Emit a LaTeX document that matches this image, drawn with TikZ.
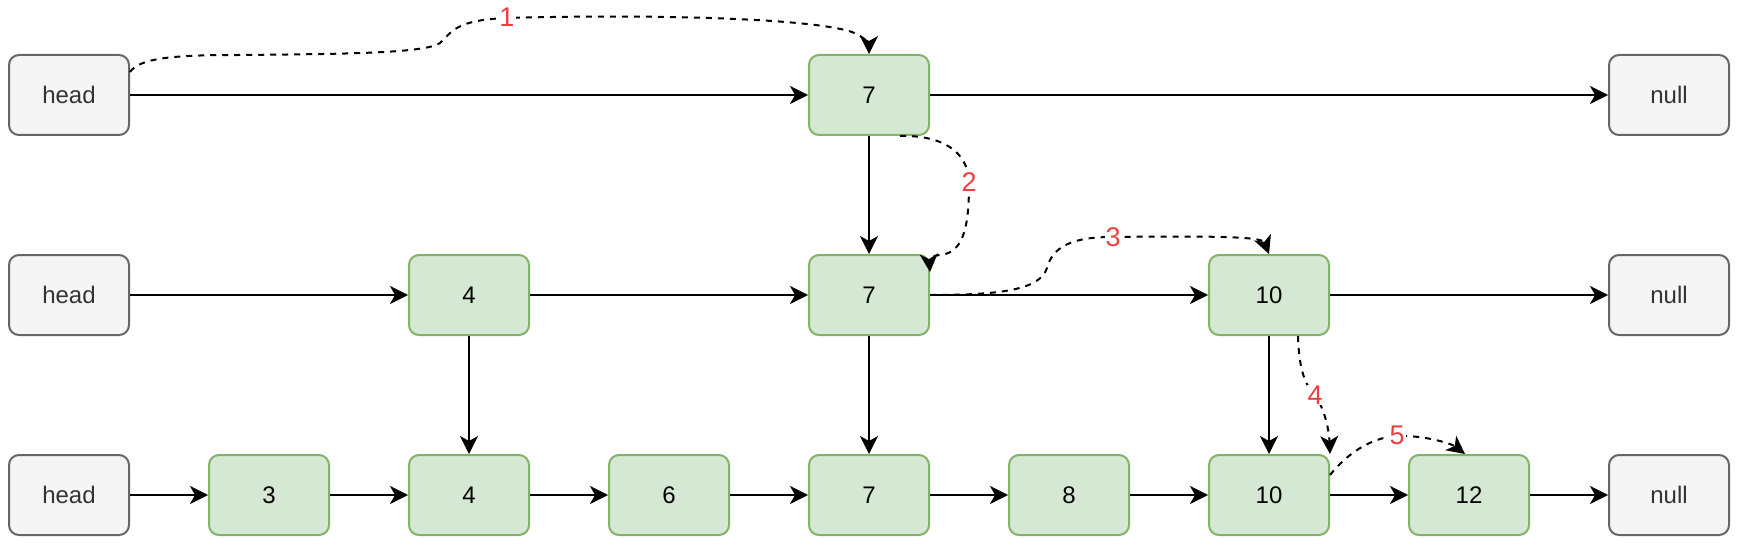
\documentclass[tikz,border=0pt]{standalone}
\usepackage{fontspec}
\setmainfont{Liberation Sans}
\usetikzlibrary{arrows.meta}
\definecolor{grayfill}{HTML}{F5F5F5}
\definecolor{graydraw}{HTML}{666666}
\definecolor{graytext}{HTML}{333333}
\definecolor{greenfill}{HTML}{D5E8D4}
\definecolor{greendraw}{HTML}{82B366}
\definecolor{labelred}{HTML}{EE3F3F}
\begin{document}
\begin{tikzpicture}[x=1pt,y=-1pt,
  box/.style={rounded corners=10pt, minimum width=120pt, minimum height=80pt, line width=2pt, inner sep=0pt, font=\fontsize{24}{28}\selectfont},
  endbox/.style={box, fill=grayfill, draw=graydraw, text=graytext},
  valbox/.style={box, fill=greenfill, draw=greendraw, text=black},
  link/.style={line width=2pt, -{Stealth[length=18pt,width=18pt,inset=5pt]}},
  searchpath/.style={link, dash pattern=on 6pt off 6pt},
  steplabel/.style={fill=white, text=labelred, inner sep=1pt, font=\fontsize{27}{30}\selectfont}
]
\useasboundingbox (0,0) rectangle (1742,548);
% row 1
\node[endbox] (h1) at (69,95) {head};
\node[valbox] (a7) at (869,95) {7};
\node[endbox] (z1) at (1669,95) {null};
% row 2
\node[endbox] (h2) at (69,295) {head};
\node[valbox] (b4) at (469,295) {4};
\node[valbox] (b7) at (869,295) {7};
\node[valbox] (b10) at (1269,295) {10};
\node[endbox] (z2) at (1669,295) {null};
% row 3
\node[endbox] (h3) at (69,495) {head};
\node[valbox] (c3) at (269,495) {3};
\node[valbox] (c4) at (469,495) {4};
\node[valbox] (c6) at (669,495) {6};
\node[valbox] (c7) at (869,495) {7};
\node[valbox] (c8) at (1069,495) {8};
\node[valbox] (c10) at (1269,495) {10};
\node[valbox] (c12) at (1469,495) {12};
\node[endbox] (z3) at (1669,495) {null};
% horizontal links
\draw[link] (h1.east) -- (a7.west);
\draw[link] (a7.east) -- (z1.west);
\draw[link] (h2.east) -- (b4.west);
\draw[link] (b4.east) -- (b7.west);
\draw[link] (b7.east) -- (b10.west);
\draw[link] (b10.east) -- (z2.west);
\draw[link] (h3.east) -- (c3.west);
\draw[link] (c3.east) -- (c4.west);
\draw[link] (c4.east) -- (c6.west);
\draw[link] (c6.east) -- (c7.west);
\draw[link] (c7.east) -- (c8.west);
\draw[link] (c8.east) -- (c10.west);
\draw[link] (c10.east) -- (c12.west);
\draw[link] (c12.east) -- (z3.west);
% vertical links
\draw[link] (a7.south) -- (b7.north);
\draw[link] (b4.south) -- (c4.north);
\draw[link] (b7.south) -- (c7.north);
\draw[link] (b10.south) -- (c10.north);
% search path
\draw[searchpath] ([yshift=23pt]h1.east) .. controls (140,57) and (180,55) .. (240,55)
  .. controls (330,54) and (425,54) .. (440,43)
  .. controls (452,32) and (455,20) .. (507,18)
  .. controls (650,14) and (810,18) .. (852,32)
  .. controls (866,38) and (869,44) .. (a7.north);
\draw[searchpath] ([xshift=31pt]a7.south) .. controls (940,135) and (968,150) .. (969,182)
  .. controls (969,220) and (966,253) .. (940,255)
  .. controls (932,256) and (929,258) .. ([yshift=-18pt]b7.north east);
\draw[searchpath] (b7.east) .. controls (1000,295) and (1040,290) .. (1047,268)
  .. controls (1053,245) and (1075,237) .. (1113,237)
  .. controls (1200,236) and (1262,236) .. (b10.north);
\draw[searchpath] ([xshift=29pt]b10.south) .. controls (1299,370) and (1305,385) .. (1315,395)
  .. controls (1325,410) and (1329,430) .. (c10.north east);
\draw[searchpath] ([yshift=20pt]c10.east) .. controls (1350,450) and (1375,437) .. (1397,436)
  .. controls (1425,435) and (1452,444) .. ([xshift=-4pt]c12.north);
% step labels
\node[steplabel] (l1) at (507,17) {1};
\node[steplabel] (l2) at (969,182) {2};
\node[steplabel] (l3) at (1113,237) {3};
\node[steplabel] (l4) at (1315,395) {4};
\node[steplabel] (l5) at (1397,435) {5};
\end{tikzpicture}
\end{document}
